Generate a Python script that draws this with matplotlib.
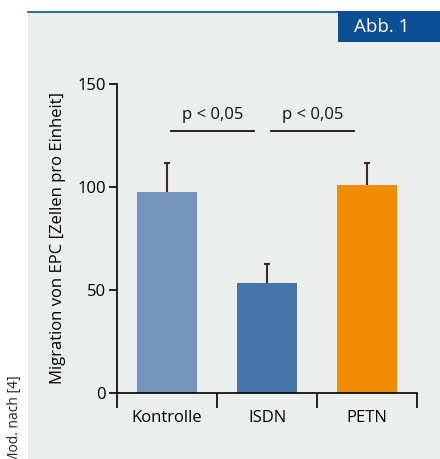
import matplotlib.pyplot as plt
from matplotlib.patches import Rectangle
from matplotlib.lines import Line2D

plt.rcParams['font.family'] = ['Open Sans', 'DejaVu Sans']

categories = ['Kontrolle', 'ISDN', 'PETN']
values = [97.5, 53.5, 101]
errors = [14, 9, 10.5]
colors = ['#7494be', '#4476aa', '#f08c00']
sig_pairs = [(0, 1), (1, 2)]
sig_label = 'p < 0,05'
sig_level = 127

W, H = 440, 459
fig = plt.figure(figsize=(W / 100, H / 100), dpi=100)
fig.patch.set_facecolor('white')

# grauer Hintergrund + Kopfzeile
fig.patches.append(Rectangle((28 / W, 0), 1, (H - 12) / H, transform=fig.transFigure,
                             facecolor='#eceded', edgecolor='none', zorder=-10))
fig.lines.append(Line2D([28 / W, 338 / W], [(H - 12) / H] * 2, transform=fig.transFigure,
                        color='#1f5fa0', lw=1.3, zorder=-5))
fig.patches.append(Rectangle((338 / W, (H - 42) / H), 102 / W, 31 / H, transform=fig.transFigure,
                             facecolor='#0b4f94', edgecolor='none', zorder=-5))
fig.text(382 / W, (H - 27) / H, 'Abb. 1', color='white', fontsize=13.5,
         ha='center', va='center')
fig.text(15 / W, (H - 375) / H, 'Mod. nach [4]', rotation=90, fontsize=10, color='#222222',
         ha='center', va='top')

ax = fig.add_axes([117 / W, (H - 393) / H, 300 / W, 309 / H])
ax.set_facecolor('none')
x = list(range(len(categories)))
ax.bar(x, values, width=0.6, color=colors, zorder=2)
ax.errorbar(x, values, yerr=errors, fmt='none', ecolor='#3b2b30',
            elinewidth=1.5, capsize=2.2, capthick=1.5, zorder=1)

for a, b in sig_pairs:
    ax.plot([a + 0.04, b - 0.13], [sig_level, sig_level], color='#111111', lw=1.3,
            clip_on=False)
    ax.text((a + 0.04 + b - 0.13) / 2, sig_level + 4, sig_label, ha='center', va='bottom',
            fontsize=12, color='#111111')

ax.set_xlim(-0.5, 2.5)
ax.set_ylim(0, 150)
ax.set_yticks([0, 50, 100, 150])
ax.set_xticks([-0.5, 0.5, 1.5, 2.5])
ax.set_xticklabels([])
ax.set_xticks(x, minor=True)
ax.set_xticklabels(categories, minor=True)
ax.tick_params(axis='x', which='major', length=11, width=1.2, direction='out')
ax.tick_params(axis='x', which='minor', length=0, pad=12, labelsize=12)
ax.tick_params(axis='y', length=6, width=1.2, pad=2, labelsize=12)
for s in ['top', 'right']:
    ax.spines[s].set_visible(False)
for s in ['left', 'bottom']:
    ax.spines[s].set_linewidth(1.2)
ax.set_ylabel('Migration von EPC [Zellen pro Einheit]', fontsize=12, labelpad=8)

fig.savefig('out.png', dpi=100)
